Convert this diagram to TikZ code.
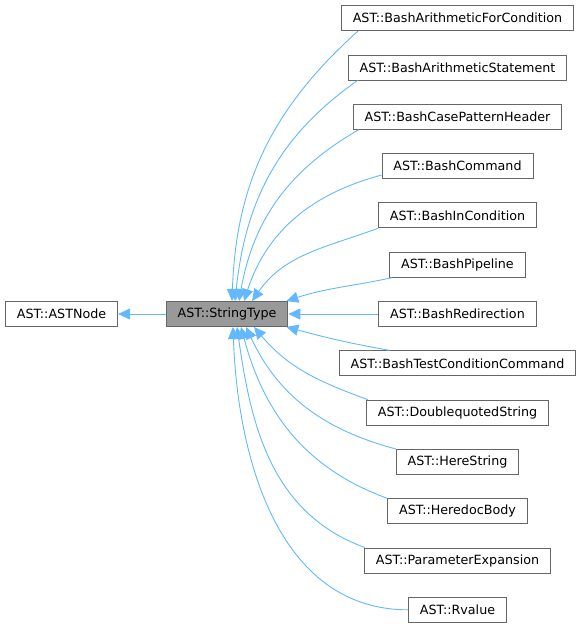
\documentclass[tikz,border=0pt]{standalone}
\usepackage{fontspec}
\setmainfont{DejaVu Sans}
\usetikzlibrary{arrows.meta}
\definecolor{edgeblue}{HTML}{63B8FF}
\definecolor{boxline}{HTML}{666666}
\definecolor{boxgray}{HTML}{999999}
\begin{document}
\begin{tikzpicture}[x=1pt,y=1pt,
  cls/.style={draw=boxline,line width=0.9pt,fill=white,minimum height=25pt,
    inner xsep=11.5pt,inner ysep=0pt,font=\fontsize{12.7}{15}\selectfont},
  inh/.style={draw=edgeblue,line width=0.9pt,{Triangle[length=12pt,width=11pt]}-}]
\useasboundingbox (0,0) rectangle (584,-628);
% base and the class itself
\node[cls] (base) at (61.5,-314) {AST::ASTNode};
\node[cls,fill=boxgray] (st) at (227,-314) {AST::StringType};
% derived classes
\node[cls] (c1)  at (457.5,-18.2)  {AST::BashArithmeticForCondition};
\node[cls] (c2)  at (457.5,-67.5)  {AST::BashArithmeticStatement};
\node[cls] (c3)  at (457.5,-116.8) {AST::BashCasePatternHeader};
\node[cls] (c4)  at (457.5,-166.1) {AST::BashCommand};
\node[cls] (c5)  at (457.5,-215.4) {AST::BashInCondition};
\node[cls] (c6)  at (457.5,-264.7) {AST::BashPipeline};
\node[cls] (c7)  at (457.5,-314)   {AST::BashRedirection};
\node[cls] (c8)  at (457.5,-363.3) {AST::BashTestConditionCommand};
\node[cls] (c9)  at (457.5,-412.6) {AST::DoublequotedString};
\node[cls] (c10) at (457.5,-461.9) {AST::HereString};
\node[cls] (c11) at (457.5,-511.2) {AST::HeredocBody};
\node[cls] (c12) at (457.5,-560.5) {AST::ParameterExpansion};
\node[cls] (c13) at (457.5,-609.8) {AST::Rvalue};
% inheritance
\draw[inh] (base) -- (st);
\draw[inh] ([xshift=5pt]st.north)  to[out=88,in=222] ([xshift=17pt]c1.south west);
\draw[inh] ([xshift=8pt]st.north)  to[out=84,in=215] ([xshift=10pt]c2.south west);
\draw[inh] ([xshift=12pt]st.north) to[out=80,in=210] ([xshift=6pt]c3.south west);
\draw[inh] ([xshift=17pt]st.north) to[out=72,in=195] ([yshift=4pt]c4.south west);
\draw[inh] ([xshift=25pt]st.north) to[out=55,in=200] (c5.south west);
\draw[inh] ([xshift=-2pt]st.north east) to[out=18,in=192] ([xshift=3pt]c6.south west);
\draw[inh] (st) -- (c7);
\draw[inh] ([xshift=-2pt]st.south east) to[out=-15,in=170] ([xshift=51pt]c8.north west);
\draw[inh] ([xshift=27pt]st.south) to[out=-50,in=160] ([xshift=2pt]c9.north west);
\draw[inh] ([xshift=19pt]st.south) to[out=-65,in=165] (c10.north west);
\draw[inh] ([xshift=14pt]st.south) to[out=-75,in=160] (c11.north west);
\draw[inh] ([xshift=10pt]st.south) to[out=-82,in=160] ([xshift=1pt]c12.north west);
\draw[inh] ([xshift=6pt]st.south)  to[out=-88,in=180] (c13.west);
\end{tikzpicture}
\end{document}
